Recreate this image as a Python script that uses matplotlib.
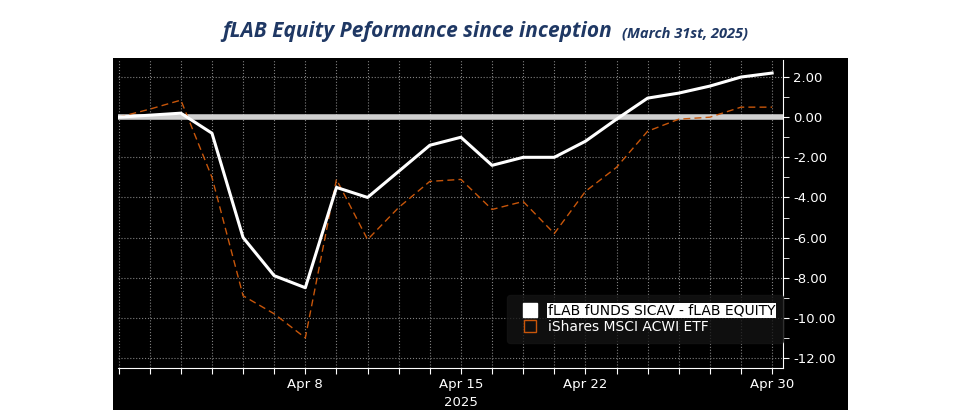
import matplotlib
matplotlib.use("Agg")
import matplotlib.pyplot as plt
from matplotlib.patches import Rectangle
from matplotlib.lines import Line2D

dates = ["Mar 31","Apr 1","Apr 2","Apr 3","Apr 4","Apr 7","Apr 8","Apr 9","Apr 10","Apr 11",
         "Apr 14","Apr 15","Apr 16","Apr 17","Apr 21","Apr 22","Apr 23","Apr 24","Apr 25",
         "Apr 28","Apr 29","Apr 30"]
flab = [0, 0.1, 0.2, -0.8, -6.0, -7.9, -8.5, -3.5, -4.0, -2.7, -1.4, -1.0, -2.4, -2.0, -2.0,
        -1.2, -0.1, 0.95, 1.2, 1.55, 2.0, 2.2]
acwi = [0, 0.4, 0.85, -3.0, -8.9, -9.8, -11.0, -3.1, -6.1, -4.5, -3.2, -3.1, -4.6, -4.2, -5.8,
        -3.7, -2.5, -0.7, -0.1, 0.0, 0.5, 0.5]
label_dates = ["Apr 8", "Apr 15", "Apr 22", "Apr 30"]
yticks = [2, 0, -2, -4, -6, -8, -10, -12]

W, H = 957, 416
fig = plt.figure(figsize=(W/100, H/100), dpi=100)
fig.patches.append(Rectangle((113/W, 6/H), (848-113)/W, (358-6)/H, transform=fig.transFigure,
                             facecolor="black", zorder=-10))
fig.text(612/W, 1-32/H, "fLAB Equity Peformance since inception", ha="right", va="center",
         fontsize=15, fontstyle="italic", fontweight="bold", color="#1f3864", family="Open Sans")
fig.text(622/W, 1-33/H, "(March 31st, 2025)", ha="left", va="center",
         fontsize=10.5, fontstyle="italic", fontweight="bold", color="#1f3864", family="Open Sans")

ax = fig.add_axes([118/W, 1-368/H, (783-118)/W, (368-60)/H])
ax.set_facecolor("black")
x = list(range(len(dates)))
ax.axhline(0, color="#d0d0d0", lw=4, zorder=2)
ax.plot(x, flab, color="white", lw=2.2, zorder=4)
ax.plot(x, acwi, color="#c8560a", lw=1, ls=(0, (5, 3)), zorder=3)
ax.set_xlim(-0.02, 21.35)
ax.set_ylim(-12.5, 2.85)
ax.yaxis.tick_right()
ax.set_yticks(yticks)
ax.set_yticklabels([f"{v:.2f}" for v in yticks], color="white", fontsize=9.5, family="Liberation Sans Narrow")
ax.set_yticks(range(-12, 3), minor=True)
ax.set_xticks(x)
ax.set_xticklabels([d if d in label_dates else "" for d in dates], color="white", fontsize=9.5,
                   family="Liberation Sans Narrow")
ax.tick_params(axis="both", which="both", colors="white", length=4)
ax.grid(True, color="#808080", ls=":", lw=0.8)
for s in ["top", "left"]:
    ax.spines[s].set_visible(False)
for s in ["bottom", "right"]:
    ax.spines[s].set_color("white")
ax.text(dates.index("Apr 15"), -13.9, "2025", ha="center", va="top", color="white",
        fontsize=9.5, family="Liberation Sans Narrow", clip_on=False)

handles = [Line2D([], [], marker="s", ls="none", markersize=10, markerfacecolor="white", markeredgecolor="white"),
           Line2D([], [], marker="s", ls="none", markersize=9, markerfacecolor="none",
                  markeredgecolor="#c8560a", markeredgewidth=1)]
leg = ax.legend(handles, ["fLAB fUNDS SICAV - fLAB EQUITY", "iShares MSCI ACWI ETF"],
                loc="lower left", bbox_to_anchor=(0.575, 0.06), frameon=True, facecolor="#141414",
                edgecolor="#141414", handletextpad=0.3, borderpad=0.6,
                labelspacing=0.2, prop={"family": "Liberation Sans Narrow", "size": 10})
for t in leg.get_texts():
    t.set_color("white")
leg.get_texts()[0].set_color("black")
leg.get_texts()[0].set_bbox(dict(facecolor="white", edgecolor="none", pad=0.5))
fig.savefig("out.png", dpi=100)
